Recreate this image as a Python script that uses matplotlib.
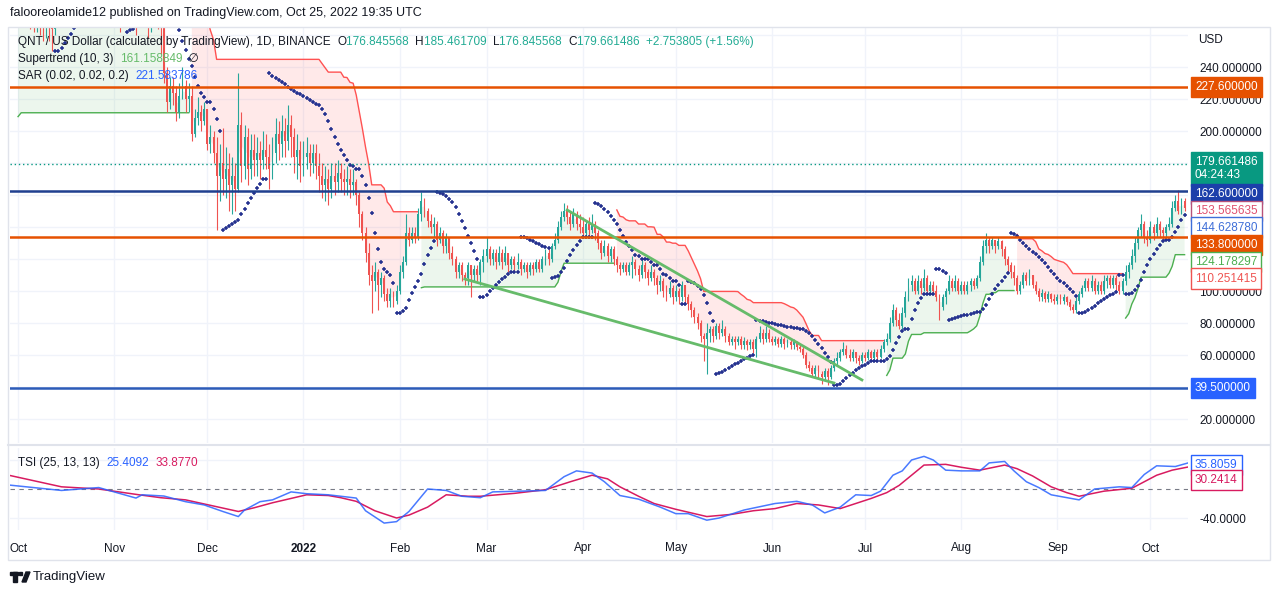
import numpy as np
import matplotlib
matplotlib.use("Agg")
import matplotlib.pyplot as plt
from matplotlib.patches import Rectangle, Polygon
from matplotlib.lines import Line2D

plt.rcParams['font.family'] = ['Liberation Sans', 'DejaVu Sans']

# QNT/USD daily candles, day 0 = 1 Oct 2021 (open of a day = previous close)
first_open = 280
closes = [
    290, 294, 286, 280, 276, 272, 278, 270, 266, 272, 268, 264, 276, 290, 290, 290, 286, 292, 296, 292, 286, 292, 296, 292, 288, 284, 290, 286, 282, 288, 284,  # Oct
    296, 290, 282, 290, 298, 292, 284, 278, 286, 292, 286, 276, 282, 290, 280, 266, 236, 218, 228, 224, 212, 222, 228, 220, 222, 198, 208, 212, 206, 214,  # Nov
    192, 196, 186, 172, 180, 170, 176, 166, 172, 164, 204, 178, 196, 176, 188, 182, 186, 182, 188, 184, 176, 186, 198, 192, 200, 194, 204, 196, 184, 188, 178,  # Dec
    184, 186, 180, 186, 178, 172, 166, 170, 164, 172, 168, 174, 170, 168, 170, 166, 168, 160, 148, 136, 124, 110, 106, 112, 104, 108, 98, 94, 98, 94, 100,  # Jan
    112, 118, 136, 132, 136, 134, 148, 156, 150, 144, 140, 142, 132, 136, 128, 134, 124, 120, 112, 116, 110, 108, 116, 110, 114, 110, 118, 122,  # Feb
    126, 120, 124, 118, 124, 118, 124, 116, 120, 116, 118, 114, 116, 112, 116, 114, 118, 114, 120, 124, 120, 128, 132, 140, 146, 150, 146, 142, 148, 142, 140,  # Mar
    136, 142, 138, 142, 136, 130, 124, 128, 122, 126, 120, 116, 114, 116, 112, 116, 118, 114, 110, 116, 112, 108, 112, 108, 104, 106, 100, 98, 102, 96,  # Apr
    100, 96, 104, 96, 92, 88, 84, 80, 72, 70, 74, 76, 72, 78, 74, 76, 72, 68, 70, 68, 70, 66, 69, 66, 68, 64, 70, 74, 70, 74, 70,  # May
    68, 70, 67, 70, 67, 68, 66, 68, 65, 64, 60, 54, 52, 48, 52, 48, 46, 50, 46, 52, 56, 58, 62, 64, 60, 58, 62, 58, 56, 60,  # Jun
    58, 62, 58, 62, 59, 64, 68, 70, 80, 88, 82, 78, 86, 96, 104, 106, 100, 106, 102, 108, 100, 104, 100, 96, 90, 96, 100, 106, 102, 106, 100,  # Jul
    104, 100, 104, 106, 103, 108, 118, 128, 132, 128, 132, 128, 131, 126, 120, 116, 112, 108, 100, 104, 110, 106, 110, 104, 100, 96, 99, 95, 98, 95, 94,  # Aug
    96, 94, 96, 93, 90, 88, 94, 98, 102, 106, 102, 106, 100, 104, 100, 106, 108, 104, 108, 104, 100, 106, 112, 116, 122, 130, 138, 142, 134, 132,  # Sep
    140, 136, 142, 138, 136, 140, 142, 152, 156, 150, 156, 152,  # Oct
]
highs = [
    300, 304, 302, 296, 292, 288, 290, 286, 282, 284, 282, 278, 286, 300, 304, 304, 302, 306, 310, 308, 302, 306, 310, 306, 302, 300, 304, 302, 296, 302, 300,
    308, 306, 298, 300, 310, 306, 300, 294, 296, 304, 300, 290, 292, 302, 296, 284, 270, 240, 234, 234, 228, 230, 240, 232, 230, 228, 214, 221, 216, 218,
    214, 204, 200, 196, 192, 202, 190, 186, 184, 180, 236, 212, 204, 202, 198, 198, 196, 194, 200, 198, 192, 196, 208, 206, 210, 208, 216, 210, 202, 198, 194,
    194, 196, 192, 192, 192, 186, 180, 178, 176, 180, 180, 182, 180, 176, 178, 176, 176, 170, 162, 150, 140, 130, 116, 118, 114, 112, 110, 102, 102, 100, 104,
    116, 122, 148, 140, 140, 140, 152, 162, 158, 152, 148, 146, 144, 140, 138, 136, 134, 128, 122, 118, 118, 112, 118, 116, 116, 116, 120, 126,
    134, 128, 126, 126, 128, 126, 128, 124, 122, 122, 124, 120, 118, 118, 118, 118, 120, 120, 122, 126, 126, 130, 136, 144, 150, 155, 154, 150, 152, 150, 148,
    146, 144, 146, 148, 144, 138, 132, 132, 130, 128, 128, 122, 118, 118, 118, 118, 122, 120, 116, 120, 118, 114, 116, 114, 110, 110, 108, 104, 106, 104,
    104, 102, 106, 104, 98, 94, 90, 86, 82, 74, 80, 78, 78, 80, 80, 82, 78, 74, 72, 72, 72, 72, 71, 70, 70, 70, 72, 78, 76, 78, 76,
    72, 72, 71, 72, 71, 70, 70, 70, 69, 67, 66, 62, 56, 54, 54, 54, 50, 52, 52, 54, 58, 62, 64, 68, 66, 64, 64, 62, 60, 62,
    62, 64, 63, 64, 64, 66, 70, 74, 84, 92, 90, 86, 90, 100, 108, 110, 108, 110, 108, 114, 110, 106, 106, 104, 98, 98, 102, 110, 108, 110, 108,
    106, 106, 106, 108, 108, 110, 122, 132, 136, 134, 134, 132, 134, 132, 128, 122, 118, 116, 110, 106, 112, 112, 114, 110, 106, 102, 101, 100, 100, 99, 98,
    98, 98, 98, 97, 95, 92, 96, 100, 104, 108, 108, 110, 108, 106, 106, 110, 110, 110, 110, 110, 106, 108, 116, 118, 126, 134, 140, 148, 144, 138,
    144, 142, 146, 144, 140, 142, 146, 156, 160, 163, 158, 158,
]
lows = [
    274, 276, 272, 266, 264, 262, 262, 260, 256, 258, 256, 250, 260, 272, 276, 274, 272, 276, 280, 278, 272, 276, 280, 278, 274, 270, 274, 272, 268, 272, 270,
    280, 276, 262, 272, 280, 278, 266, 260, 266, 274, 272, 258, 262, 270, 264, 248, 230, 212, 214, 216, 206, 208, 220, 212, 212, 194, 196, 204, 200, 204,
    188, 186, 180, 138, 156, 160, 158, 150, 148, 150, 162, 168, 170, 166, 170, 172, 172, 170, 176, 176, 164, 170, 180, 182, 184, 184, 188, 184, 174, 170, 168,
    172, 176, 172, 174, 170, 162, 158, 156, 154, 158, 160, 162, 162, 160, 160, 158, 160, 154, 140, 132, 118, 104, 86, 100, 88, 96, 94, 90, 90, 90, 92,
    98, 108, 116, 128, 130, 130, 132, 144, 146, 140, 136, 134, 128, 130, 124, 124, 120, 116, 108, 108, 106, 104, 104, 96, 106, 106, 104, 112,
    118, 116, 116, 114, 116, 114, 116, 112, 114, 112, 114, 110, 112, 108, 110, 110, 112, 112, 112, 116, 116, 118, 126, 130, 138, 144, 142, 138, 140, 138, 136,
    134, 134, 134, 136, 132, 126, 120, 122, 118, 118, 116, 112, 110, 112, 110, 110, 108, 110, 106, 108, 108, 104, 106, 104, 98, 100, 96, 94, 96, 92,
    94, 92, 94, 92, 88, 84, 80, 76, 68, 56, 48, 68, 68, 70, 70, 72, 68, 66, 66, 64, 66, 64, 64, 63, 64, 61, 59, 68, 67, 68, 68,
    66, 66, 65, 65, 64, 65, 64, 64, 63, 62, 58, 52, 50, 46, 46, 45, 42, 44, 41, 45, 50, 54, 56, 60, 58, 56, 56, 55, 54, 55,
    56, 57, 56, 57, 56, 58, 62, 66, 68, 78, 78, 76, 76, 84, 94, 100, 98, 98, 98, 100, 98, 98, 98, 94, 82, 88, 92, 98, 100, 100, 98,
    98, 98, 98, 100, 101, 102, 106, 116, 124, 124, 126, 124, 126, 122, 116, 112, 108, 104, 98, 98, 102, 104, 104, 102, 98, 94, 94, 93, 93, 93, 92,
    92, 92, 92, 91, 88, 86, 86, 92, 96, 100, 100, 100, 98, 98, 98, 98, 102, 102, 102, 100, 98, 98, 104, 108, 114, 118, 126, 134, 130, 128,
    130, 132, 134, 134, 132, 134, 138, 140, 150, 148, 148, 150,
]

month_days = [0, 31, 61, 92, 123, 151, 182, 212, 243, 273, 304, 335, 365]
month_names = ['Oct', 'Nov', 'Dec', '2022', 'Feb', 'Mar', 'Apr', 'May', 'Jun', 'Jul', 'Aug', 'Sep', 'Oct']

levels_orange = [227.6, 133.8]
levels_blue = [162.6, 39.5]
last_price = 179.661486

# hand drawn falling wedge (day, price)
wedge_upper_days = [177, 272]
wedge_upper_prices = [150.6, 44.4]
wedge_lower_days = [144, 263]
wedge_lower_prices = [107.5, 42.5]

# TSI (25, 13, 13)
tsi_days = [-3, 14, 26, 38, 40, 47, 54, 60, 66, 71, 73, 78, 82, 88, 93, 100, 109, 112, 118, 122, 126,
            132, 138, 143, 149, 153, 170, 176, 180, 185, 189, 194, 200, 207, 212, 216, 222, 226, 234,
            244, 251, 256, 260, 265, 270, 275, 278, 282, 285, 288, 292, 295, 299, 304, 310, 313, 318,
            321, 325, 329, 333, 342, 347, 355, 359, 363, 367, 373, 377]
tsi_values = [5.5, -2, 2, -12.5, -8, -9.7, -17.5, -22, -31, -38, -29, -17.5, -15, -4, -6.5, -8, -12.5, -30, -47, -45, -31,
              0, -2, -10, -12, -4, -2, 17, 25, 22, 10, -9, -14, -25, -34, -34, -43, -40, -29,
              -20, -17, -22, -33, -25, -8, -9, -3, 19, 25, 40, 45, 40, 26, 25, 25, 36, 38,
              25, 10, 2, -8, -15, 0, 3, 2, 20, 32, 31, 35.8]
tsi_signal_days = [-3, 14, 26, 39, 46, 54, 71, 76, 82, 93, 100, 104, 109, 115, 122, 126, 132, 138, 145, 149,
                   160, 170, 178, 185, 190, 194, 200, 205, 212, 222, 230, 237, 244, 251, 258, 265, 270, 275,
                   280, 284, 288, 292, 299, 304, 310, 318, 322, 327, 333, 338, 342, 350, 359, 367, 372, 377]
tsi_signal_values = [19, 3, 0, -8, -12, -15, -31, -26, -19, -8, -9, -12, -17, -30, -40, -36, -25, -8, -10, -10,
                     -6, -1, 10, 19, 14, 3, -10, -20, -28, -38, -35, -30, -27, -20, -22, -27, -20, -13,
                     -5, 5, 19, 33, 34, 30, 26, 33, 28, 18, 3, -5, -10, -3, 1, 19, 26, 30.24]


def atr_rma(h, l, c, n):
    prev = np.r_[c[0], c[:-1]]
    tr = np.maximum(h - l, np.maximum(np.abs(h - prev), np.abs(l - prev)))
    atr = np.empty_like(tr)
    atr[0] = tr[0]
    for i in range(1, len(tr)):
        atr[i] = atr[i - 1] + (tr[i] - atr[i - 1]) / n
    return atr


def supertrend(h, l, c, n=10, factor=3.0):
    atr = atr_rma(h, l, c, n)
    hl2 = (h + l) / 2
    lower = hl2 - factor * atr
    upper = hl2 + factor * atr
    trend = np.ones(len(c), dtype=int)
    st = np.empty(len(c))
    st[0] = lower[0]
    for i in range(1, len(c)):
        if lower[i] < lower[i - 1] and c[i - 1] > lower[i - 1]:
            lower[i] = lower[i - 1]
        if upper[i] > upper[i - 1] and c[i - 1] < upper[i - 1]:
            upper[i] = upper[i - 1]
        if trend[i - 1] == 1:
            trend[i] = -1 if c[i] < lower[i] else 1
        else:
            trend[i] = 1 if c[i] > upper[i] else -1
        st[i] = lower[i] if trend[i] == 1 else upper[i]
    return st, trend


def psar(h, l, start=0.02, inc=0.02, mx=0.2):
    n = len(h)
    sar = np.empty(n)
    up = True
    af = start
    ep = h[0]
    sar[0] = l[0]
    for i in range(1, n):
        s = sar[i - 1] + af * (ep - sar[i - 1])
        if up:
            s = min(s, l[i - 1], l[max(i - 2, 0)])
            if l[i] < s:
                up, s, ep, af = False, ep, l[i], start
            elif h[i] > ep:
                ep, af = h[i], min(af + inc, mx)
        else:
            s = max(s, h[i - 1], h[max(i - 2, 0)])
            if h[i] > s:
                up, s, ep, af = True, ep, h[i], start
            elif l[i] < ep:
                ep, af = l[i], min(af + inc, mx)
        sar[i] = s
    return sar


W, H = 1280, 595
DARK = '#131722'
GRID = '#f0f3fa'
UP = '#26a69a'
DOWN = '#ef5350'


def fig_xy(x, y):
    return x / W, 1 - y / H


def text_run(fig, x, y, parts, size=8.5):
    r = fig.canvas.get_renderer()
    for s, col in parts:
        t = fig.text(*fig_xy(x, y), s, color=col, fontsize=size, va='center', ha='left')
        x += t.get_window_extent(renderer=r).width


def tag(ax, value, text, fc, ec, tc, shift_px=0):
    ax.annotate(text, xy=(1.0, value), xycoords=('axes fraction', 'data'),
                xytext=(5, -shift_px * 0.72), textcoords='offset points',
                ha='left', va='center', fontsize=8.5, color=tc, annotation_clip=False,
                bbox=dict(boxstyle='square,pad=0.35', fc=fc, ec=ec, lw=1), zorder=10)


def main():
    c = np.array(closes, float)
    h = np.array(highs, float)
    l = np.array(lows, float)
    o = np.r_[first_open, c[:-1]]
    days = np.arange(len(c))
    st, trend = supertrend(h, l, c)
    sar = psar(h, l)
    mid = (o + c) / 2

    fig = plt.figure(figsize=(12.8, 5.95), dpi=100)
    ax = fig.add_axes([10 / W, 1 - 443 / H, 1178 / W, 415 / H])
    ax2 = fig.add_axes([10 / W, 1 - 530 / H, 1178 / W, 82 / H], sharex=ax)

    for a in (ax, ax2):
        for sp in a.spines.values():
            sp.set_visible(False)
        for d in month_days:
            a.axvline(d, color=GRID, lw=1, zorder=0)
    for p in range(20, 261, 20):
        ax.axhline(p, color=GRID, lw=1, zorder=0)

    # supertrend (10, 3)
    up_mask = trend == 1
    ax.fill_between(days, mid, st, where=up_mask, color='#4caf50', alpha=0.1, lw=0, zorder=1)
    ax.fill_between(days, mid, st, where=~up_mask, color='#ff5252', alpha=0.12, lw=0, zorder=1)
    ax.plot(days, np.where(up_mask, st, np.nan), color='#4caf50', lw=1, zorder=2)
    ax.plot(days, np.where(~up_mask, st, np.nan), color='#ff5252', lw=1, zorder=2)

    # candles
    col = np.where(c >= o, UP, DOWN)
    ax.vlines(days, l, h, colors=col, lw=0.8, zorder=3)
    ax.bar(days, np.maximum(np.abs(c - o), 0.4), bottom=np.minimum(o, c), width=0.62,
           color=col, lw=0, zorder=4)

    # parabolic SAR
    ax.plot(days[1:], sar[1:], ls='none', marker='+', ms=2.6, mew=1.1, color='#24318f', zorder=5)

    # horizontal levels and wedge
    for p in levels_orange:
        ax.axhline(p, color='#e65100', lw=1.8, zorder=6)
    ax.axhline(levels_blue[0], color='#1f3f8f', lw=1.8, zorder=6)
    ax.axhline(levels_blue[1], color='#2c5bb8', lw=1.8, zorder=6)
    ax.axhline(last_price, color='#089981', lw=1, ls=(0, (1, 2)), zorder=6)
    ax.plot(wedge_upper_days, wedge_upper_prices, color='#66bb6a', lw=2, zorder=6)
    ax.plot(wedge_lower_days, wedge_lower_prices, color='#66bb6a', lw=2, zorder=6)

    ax.set_xlim(-2.6, 377.1)
    ax.set_ylim(5.0, 264.375)
    ax.yaxis.tick_right()
    ax.set_yticks([20, 60, 80, 100, 200, 220, 240])
    ax.set_yticklabels(['%.6f' % v for v in [20, 60, 80, 100, 200, 220, 240]])
    ax.tick_params(axis='y', length=0, pad=8, labelsize=8.5, labelcolor=DARK)
    ax.tick_params(axis='x', length=0, labelbottom=False)

    # TSI pane
    ax2.axhline(0, color='#787b86', lw=0.8, ls=(0, (4, 4)), zorder=1)
    ax2.axhline(40, color=GRID, lw=1, zorder=0)
    ax2.axhline(-40, color=GRID, lw=1, zorder=0)
    ax2.plot(tsi_signal_days, tsi_signal_values, color='#d81b60', lw=1.1, zorder=3)
    ax2.plot(tsi_days, tsi_values, color='#2962ff', lw=1.1, alpha=0.85, zorder=4)
    ax2.set_ylim(-56.55, 56.55)
    ax2.yaxis.tick_right()
    ax2.set_yticks([-40])
    ax2.set_yticklabels(['-40.0000'])
    ax2.tick_params(axis='y', length=0, pad=8, labelsize=8.5, labelcolor=DARK)
    ax2.set_xticks(month_days)
    ax2.set_xticklabels(month_names)
    ax2.tick_params(axis='x', length=0, pad=9, labelsize=8.5, labelcolor=DARK)
    ax2.get_xticklabels()[3].set_fontweight('bold')

    # price scale tags
    tag(ax, 227.6, '227.600000', '#e65100', '#e65100', 'white')
    tag(ax, last_price, '179.661486\n04:24:43', '#089981', '#089981', 'white', 5)
    tag(ax, 162.6, '162.600000', '#1c3faa', '#1c3faa', 'white', 3)
    tag(ax, 153.565635, '153.565635', 'white', '#b8527a', '#e0506e', 6)
    tag(ax, 144.62878, '144.628780', 'white', '#3f6fd8', '#3f6fd8', 8)
    tag(ax, 133.8, '133.800000', '#e65100', '#e65100', 'white', 8)
    tag(ax, 124.178297, '124.178297', 'white', '#4caf50', '#4caf50', 10)
    tag(ax, 110.251415, '110.251415', 'white', '#ef5350', '#ef5350', 4)
    tag(ax, 39.5, '39.500000', '#2962ff', '#2962ff', 'white')
    tag(ax2, 35.8059, '35.8059', 'white', '#2962ff', '#2962ff', 2)
    tag(ax2, 30.2414, '30.2414', 'white', '#d81b60', '#d81b60', 13)
    fig.text(*fig_xy(1198, 40), 'USD', fontsize=8.5, color=DARK, va='center')

    # frame
    fig.add_artist(Rectangle(fig_xy(8, 560), 1262 / W, 533 / H, transform=fig.transFigure,
                             fill=False, ec='#e0e3eb', lw=1))
    fig.add_artist(Line2D([8 / W, 1270 / W], [1 - 445 / H] * 2, transform=fig.transFigure,
                          color='#e0e3eb', lw=1.5))

    # legends
    teal = '#22ab94'
    text_run(fig, 10, 13, [('falooreolamide12 published on TradingView.com, Oct 25, 2022 19:35 UTC', DARK)], 9)
    text_run(fig, 18, 42, [('QNT / US Dollar (calculated by TradingView), 1D, BINANCE  ', DARK),
                           ('O', DARK), ('176.845568  ', teal), ('H', DARK), ('185.461709  ', teal),
                           ('L', DARK), ('176.845568  ', teal), ('C', DARK), ('179.661486  ', teal),
                           ('+2.753805 (+1.56%)', teal)])
    text_run(fig, 18, 59, [('Supertrend (10, 3)  ', DARK), ('161.158849', '#66bb6a'), ('  \u2205', DARK)])
    text_run(fig, 18, 76, [('SAR (0.02, 0.02, 0.2)  ', DARK), ('221.583786', '#2962ff')])
    text_run(fig, 18, 463, [('TSI (25, 13, 13)  ', DARK), ('25.4092', '#2962ff'), ('  ', DARK),
                            ('33.8770', '#d81b60')])

    # TradingView mark
    fig.add_artist(Rectangle(fig_xy(10, 575), 8 / W, 3 / H, transform=fig.transFigure, color=DARK))
    fig.add_artist(Rectangle(fig_xy(13, 582), 4 / W, 10 / H, transform=fig.transFigure, color=DARK))
    fig.add_artist(Rectangle(fig_xy(19, 575), 3 / W, 3 / H, transform=fig.transFigure, color=DARK))
    fig.add_artist(Polygon([fig_xy(22, 582), fig_xy(26, 572), fig_xy(30, 572), fig_xy(26, 582)],
                           closed=True, transform=fig.transFigure, color=DARK))
    text_run(fig, 33, 577, [('TradingView', DARK)], 9.5)

    fig.savefig('out.png', dpi=100, facecolor='white')


if __name__ == "__main__":
    main()
